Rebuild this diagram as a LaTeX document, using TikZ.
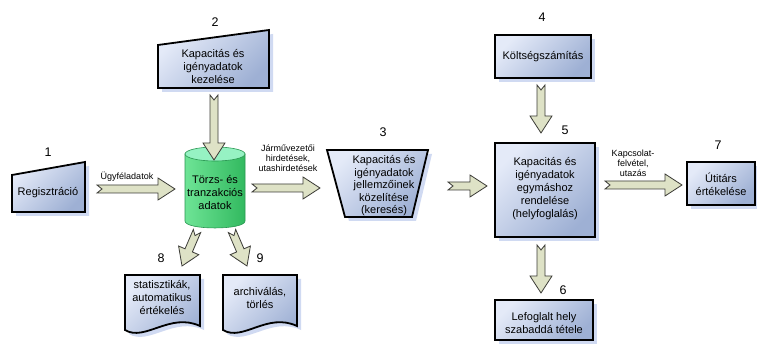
\documentclass[tikz,border=0pt]{standalone}
\usepackage{fontspec}
\setmainfont{Liberation Sans}
\usetikzlibrary{calc,shadows}
\definecolor{boxlight}{RGB}{228,234,248}
\definecolor{boxdark}{RGB}{158,176,212}
\definecolor{shadowc}{RGB}{208,218,242}
\definecolor{arrfill}{RGB}{222,226,198}
\definecolor{arrdraw}{RGB}{60,60,55}
\definecolor{cyltop}{RGB}{150,242,195}
\definecolor{cyllight}{RGB}{110,228,150}
\definecolor{cyldark}{RGB}{50,185,95}
\definecolor{cylline}{RGB}{40,150,80}
\def\arrsw{4pt}
\def\arrhw{11pt}
\def\arrhl{17pt}
\def\arrn{5pt}
\newcommand{\blockarr}[3][]{%
  \coordinate (#2#3c) at ($(#3)!\arrhl!(#2)$);
  \draw[blockarrow,#1] ($(#2)!\arrsw!90:(#3)$) -- ($(#2#3c)!\arrsw!90:(#3)$)
    -- ($(#2#3c)!\arrhw!90:(#3)$) -- (#3) -- ($(#2#3c)!\arrhw!-90:(#3)$)
    -- ($(#2#3c)!\arrsw!-90:(#3)$) -- ($(#2)!\arrsw!-90:(#3)$)
    -- ($(#2)!\arrn!(#3)$) -- cycle;}
\tikzset{
  shapebox/.style={draw=black, line width=1.8pt, line join=miter,
    top color=boxlight, bottom color=boxdark, shading angle=45,
    drop shadow={fill=shadowc, opacity=1, shadow xshift=4pt, shadow yshift=-4pt}},
  rbox/.style={shapebox, inner sep=0pt},
  txt/.style={align=center, font=\fontsize{11}{13}\selectfont, inner sep=0pt},
  small/.style={align=center, font=\fontsize{9}{10}\selectfont, inner sep=0pt},
  num/.style={font=\fontsize{12.5}{14}\selectfont, inner sep=0pt},
  blockarrow/.style={draw=arrdraw, line width=0.8pt, fill=arrfill, line join=miter},
}
\begin{document}
\begin{tikzpicture}[x=1pt,y=-1pt]
\useasboundingbox[fill=white] (0,0) rectangle (757,352);

% 1 Regisztracio
\path[shapebox] (12,175) -- (85,162) -- (85,212) -- (12,212) -- cycle;
\node[txt] (reg) at (48,193) {Regisztráció};
\node[num] (n1) at (48,152) {1};

% 2
\path[shapebox] (158,45) -- (269,30) -- (269,88) -- (158,88) -- cycle;
\node[txt] (kez) at (213,67) {Kapacitás és\\igényadatok\\kezelése};
\node[num] (n2) at (215,22) {2};

% cylinder
\path[draw=cylline, line width=0.6pt, left color=cyllight, right color=cyldark]
  (185,154) -- (185,221) .. controls (185,230.3) and (245,230.3) .. (245,221) -- (245,154) -- cycle;
\path[draw=cylline, line width=0.6pt, fill=cyltop] (215,154) ellipse [x radius=30, y radius=7];
\node[txt] (db) at (215,193) {Törzs- és\\tranzakciós\\adatok};

% 3
\path[shapebox] (327,150) -- (428,150) -- (412,217) -- (345,217) -- cycle;
\node[txt, font=\fontsize{11}{12.5}\selectfont] (ker) at (384,186) {Kapacitás és\\igényadatok\\jellemzőinek\\közelítése\\(keresés)};
\node[num] (n3) at (383,132) {3};

% 4
\node[rbox, minimum width=96, minimum height=43, txt] (kolt) at (543,56.5) {Költségszámítás};
\node[num] (n4) at (542,17) {4};

% 5
\node[rbox, minimum width=100, minimum height=94] (hf) at (545,190) {};
\node[txt] (hft) at (545,189) {Kapacitás és\\igényadatok\\egymáshoz\\rendelése\\(helyfoglalás)};
\node[num] (n5) at (565,130) {5};

% 6
\node[rbox, minimum width=98, minimum height=40] (lef) at (544,320) {};
\node[txt] (left) at (544,323) {Lefoglalt hely\\szabaddá tétele};
\node[num] (n6) at (563,290) {6};

% 7
\node[rbox, minimum width=68, minimum height=43] (uti) at (721,183.5) {};
\node[txt] (utit) at (721,184) {Útitárs\\értékelése};
\node[num] (n7) at (718,145) {7};

% 8 document
\path[shapebox] (125,275) -- (200,275) -- (200,326) .. controls (170,312) and (145,342) .. (125,330) -- cycle;
\node[txt] (stat) at (162,298) {statisztikák,\\automatikus\\értékelés};
\node[num] (n8) at (161,258) {8};

% 9 document
\path[shapebox] (223,275) -- (297,275) -- (297,326) .. controls (267,312) and (243,342) .. (223,330) -- cycle;
\node[txt] (arch) at (260,298) {archiválás,\\törlés};
\node[num] (n9) at (260,258) {9};

% arrow coordinates
\coordinate (a1t) at (97,189);  \coordinate (a1h) at (175,189);
\coordinate (a2t) at (214,95);  \coordinate (a2h) at (214,160);
\coordinate (a3t) at (252,188); \coordinate (a3h) at (320,188);
\coordinate (a4t) at (448,186); \coordinate (a4h) at (487,186);
\coordinate (a5t) at (541,85);  \coordinate (a5h) at (541,133);
\coordinate (a6t) at (605,185); \coordinate (a6h) at (682,185);
\coordinate (a7t) at (541,245); \coordinate (a7h) at (541,293);
\coordinate (a8t) at (197,231); \coordinate (a8h) at (182,266);
\coordinate (a9t) at (232,231); \coordinate (a9h) at (247,266);

\blockarr{a1t}{a1h}
\blockarr{a2t}{a2h}
\blockarr{a3t}{a3h}
\blockarr{a4t}{a4h}
\blockarr{a5t}{a5h}
\blockarr{a6t}{a6h}
\blockarr{a7t}{a7h}
\blockarr{a8t}{a8h}
\blockarr{a9t}{a9h}

% arrow labels
\node[small] (l1) at (127,177) {Ügyféladatok};
\node[small] (l3) at (288,158) {Járművezetői\\hirdetések,\\utashirdetések};
\node[small] (l6) at (633,163) {Kapcsolat-\\felvétel,\\utazás};
\end{tikzpicture}
\end{document}
